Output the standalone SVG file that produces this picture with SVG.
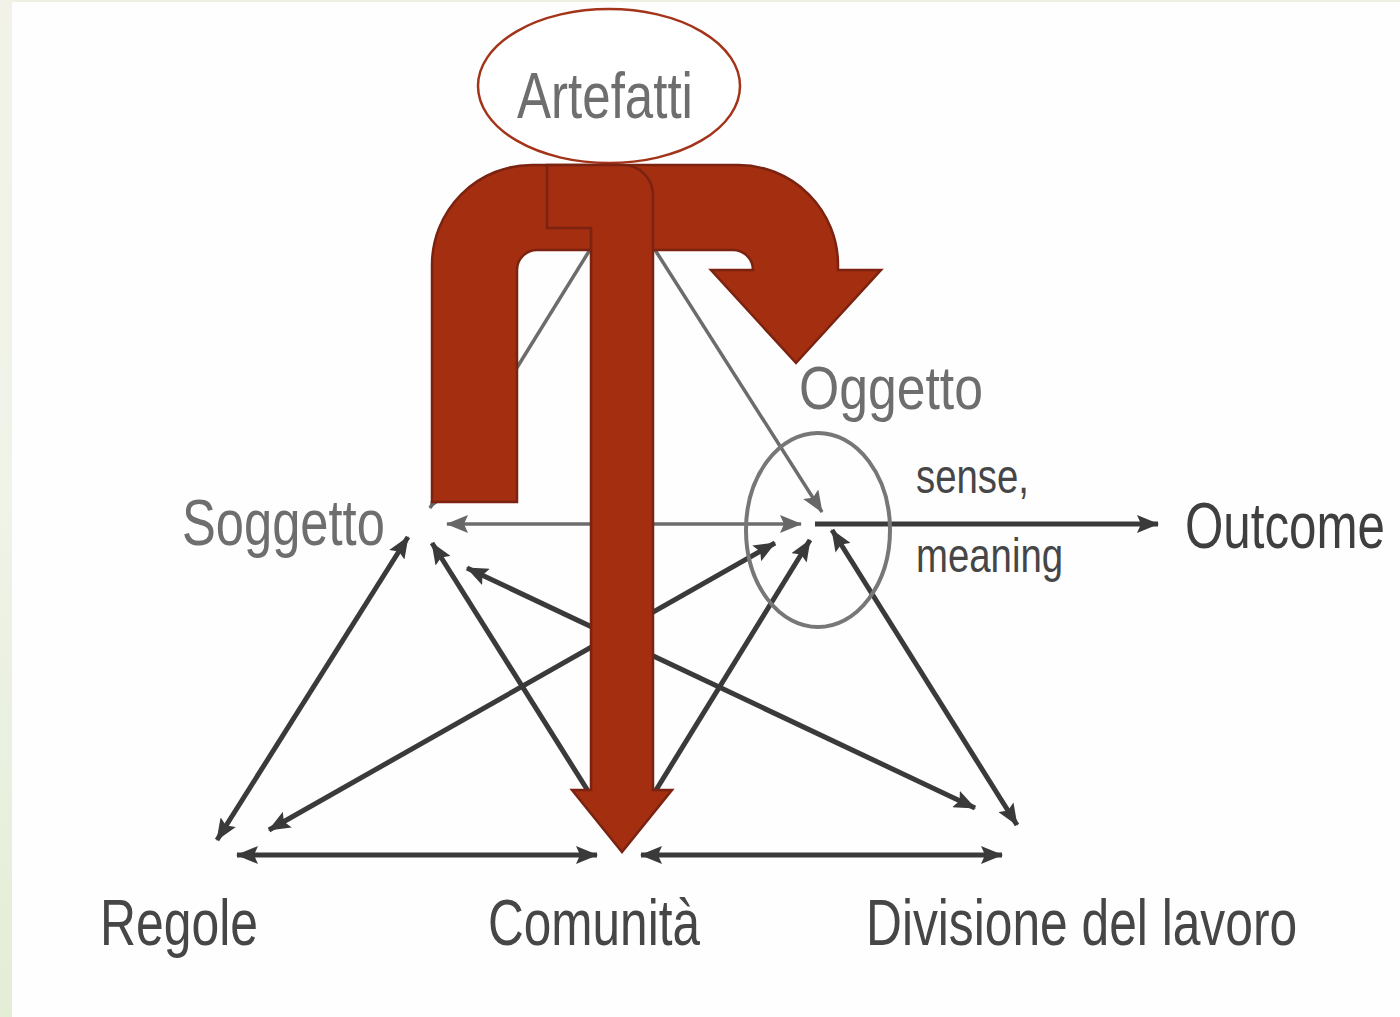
<svg xmlns="http://www.w3.org/2000/svg" width="1400" height="1017" viewBox="0 0 1400 1017">
<defs>
<linearGradient id="side" x1="0" y1="0" x2="0" y2="1">
<stop offset="0" stop-color="#f2f2e8"/>
<stop offset="0.5" stop-color="#eff3e8"/>
<stop offset="1" stop-color="#e4edd6"/>
</linearGradient>
<marker id="ahd" viewBox="0 0 22 18" refX="21" refY="9" markerWidth="22" markerHeight="18" markerUnits="userSpaceOnUse" orient="auto-start-reverse">
<path d="M0,0 L22,9 L0,18 L4,9 Z" fill="#3a3a3a"/>
</marker>
<marker id="ahg" viewBox="0 0 22 18" refX="21" refY="9" markerWidth="22" markerHeight="18" markerUnits="userSpaceOnUse" orient="auto-start-reverse">
<path d="M0,0 L22,9 L0,18 L4,9 Z" fill="#676767"/>
</marker>
</defs>
<style>
.lbl{font-family:"Liberation Sans",Arial,sans-serif;}
.big{font-size:64px;}
.small{font-size:48px;}
.light{fill:#6e6e6e;}
.dark{fill:#464646;}
.dk{stroke:#3a3a3a;stroke-width:5;fill:none;}
.gr{stroke:#6c6c6c;stroke-width:3.5;fill:none;}
.red{fill:#a32e10;stroke:#7b2210;stroke-width:2.5;stroke-linejoin:miter;}
</style>
<rect x="0" y="0" width="1400" height="1017" fill="#fefefe"/>
<rect x="0" y="0" width="1400" height="2" fill="#eef1e2"/>
<rect x="0" y="0" width="12" height="1017" fill="url(#side)"/>

<g id="connectors">
<line class="gr" x1="622" y1="198" x2="430" y2="508" marker-end="url(#ahg)"/>
<line class="gr" x1="622" y1="198" x2="822" y2="512" marker-end="url(#ahg)"/>
<line class="gr" x1="447" y1="524" x2="801" y2="524" marker-start="url(#ahg)" marker-end="url(#ahg)" stroke-width="4.5"/>
<line class="dk" x1="815" y1="524" x2="1158" y2="524" marker-end="url(#ahd)" stroke-width="6"/>
<line class="dk" x1="217" y1="840" x2="408" y2="537" marker-start="url(#ahd)" marker-end="url(#ahd)"/>
<line class="dk" x1="432" y1="543" x2="600" y2="810" marker-start="url(#ahd)"/>
<line class="dk" x1="467" y1="568" x2="975" y2="808" marker-start="url(#ahd)" marker-end="url(#ahd)"/>
<line class="dk" x1="269" y1="830" x2="775" y2="543" marker-start="url(#ahd)" marker-end="url(#ahd)"/>
<line class="dk" x1="645" y1="808" x2="810" y2="540" marker-end="url(#ahd)"/>
<line class="dk" x1="832" y1="530" x2="1017" y2="825" marker-start="url(#ahd)" marker-end="url(#ahd)"/>
<line class="dk" x1="237" y1="855" x2="597" y2="855" marker-start="url(#ahd)" marker-end="url(#ahd)" stroke-width="6"/>
<line class="dk" x1="641" y1="855" x2="1002" y2="855" marker-start="url(#ahd)" marker-end="url(#ahd)" stroke-width="6"/>
</g>

<g id="node-oggetto">
<ellipse cx="818" cy="530" rx="72" ry="97" fill="none" stroke="#777" stroke-width="4"/>
<text class="lbl light" font-size="62" transform="translate(799,409) scale(0.834,1)">Oggetto</text>
<text class="lbl small dark" transform="translate(916,493) scale(0.799,1)">sense,</text>
<text class="lbl small dark" transform="translate(916,572) scale(0.799,1)">meaning</text>
</g>
<g id="node-soggetto">
<text class="lbl big light" transform="translate(182,545) scale(0.792,1)">Soggetto</text>
</g>
<g id="node-outcome">
<text class="lbl big" fill="#3f3f3f" transform="translate(1185,548) scale(0.77,1)">Outcome</text>
</g>
<g id="node-regole">
<text class="lbl big dark" transform="translate(100,945) scale(0.779,1)">Regole</text>
</g>
<g id="node-comunita">
<text class="lbl big dark" transform="translate(488,945) scale(0.774,1)">Comunità</text>
</g>
<g id="node-divisione">
<text class="lbl big dark" transform="translate(866,945) scale(0.777,1)">Divisione del lavoro</text>
</g>
<g id="node-artefatti">
<ellipse cx="609" cy="86" rx="131" ry="77" fill="#fff" stroke="#a3341a" stroke-width="2.5"/>
<text class="lbl big light" transform="translate(517,118) scale(0.798,1)">Artefatti</text>
</g>

<g id="red-uturn">
<path class="red" d="M432,502 L432,265 A100,100 0 0 1 532,165 L738,165 A100,100 0 0 1 838,265 L838,270 L881,270 L796,363 L711,270 L753,270 A20,20 0 0 0 733,250 L537,250 A20,20 0 0 0 517,270 L517,502 Z"/>
</g>
<g id="red-down">
<path class="red" d="M547,228 L547,165 L623,165 A30,30 0 0 1 653,195 L653,790 L672,790 L622,852 L572,790 L591,790 L591,228 Z"/>
</g>
</svg>
